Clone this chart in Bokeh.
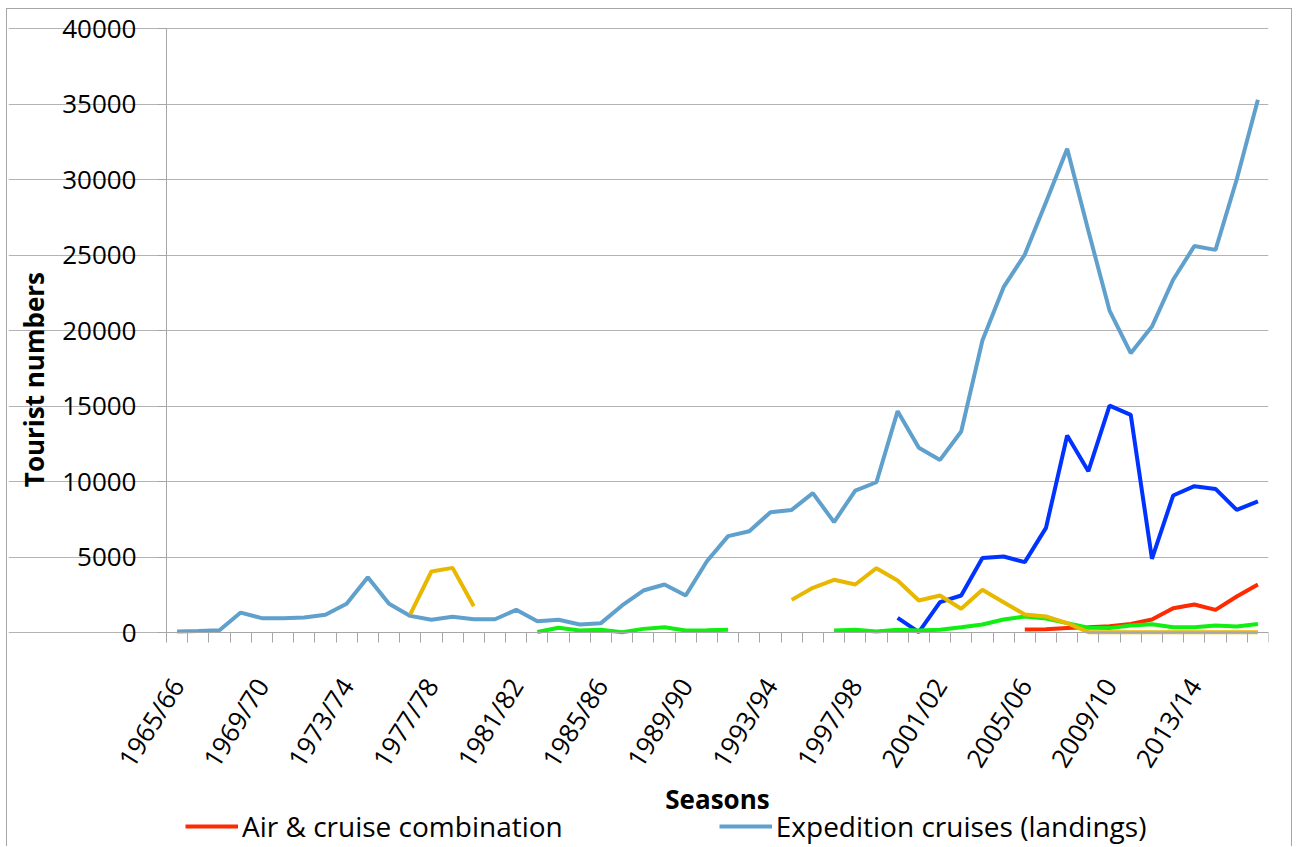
import math
import numpy as np
from bokeh.plotting import figure
from bokeh.models import (Range1d, FixedTicker, CustomJSTickFormatter, Legend,
                          LegendItem, Label, NumeralTickFormatter)
from bokeh.embed import file_html
from bokeh.resources import INLINE

nan = np.nan

# Antarctic seasons, 1965/66 .. 2016/17
seasons = [f"{y}/{(y + 1) % 100:02d}" for y in range(1965, 2017)]
label_every = 4

# Tourist numbers per season (nan = no data for that season)
air_cruise = [nan] * 40 + [200, 220, 290, 350, 420, 570, 860, 1610, 1850, 1500, 2380, 3180]

expedition = [60, 100, 150, 1320, 950, 950, 990, 1170, 1900, 3660,
              1900, 1100, 840, 1040, 880, 880, 1500, 740, 840, 530,
              620, 1790, 2780, 3180, 2450, 4720, 6380, 6710, 7970, 8120,
              9230, 7310, 9400, 9950, 14660, 12230, 11430, 13310, 19340, 22870,
              25030, 28500, 32030, 26600, 21320, 18500, 20260, 23360, 25590, 25340,
              30000, 35280]

cruise_only = [nan] * 34 + [970, 20, 2010, 2450, 4940, 5030, 4660, 6930, 13050, 10680,
                            15030, 14410, 4880, 9070, 9690, 9510, 8120, 8680]

overflights = ([nan] * 11 + [1200, 4040, 4280, 1740] + [nan] * 14 +
               [2160, 2960, 3490, 3180, 4260, 3440, 2120, 2450, 1570, 2830,
                2010, 1190, 1060, 620, 20, 20, 20, 20, 20, 20, 20, 20, 20])

yachts = ([nan] * 17 + [30, 310, 130, 180, 20, 240, 350, 130, 150, 180] + [nan] * 4 +
          [130, 180, 70, 180, 130, 180, 350, 530, 860, 1060, 930, 620, 310, 290,
           460, 550, 350, 350, 460, 400, 570])

x = list(range(len(seasons)))

FONT = "Open Sans"
GRID = "#b3b3b3"
AXIS = "#a6a6a6"

# The frame covers nearly the whole canvas: both axes are pinned at the
# data origin so their labels, the titles and the legend sit inside it.
Y_LO, Y_HI = 0, 40000
PLOT_H, BELOW_PX, ABOVE_PX = 604, 214, 18
Y_MIN = Y_LO - (Y_HI - Y_LO) * BELOW_PX / PLOT_H
Y_MAX = Y_HI + (Y_HI - Y_LO) * ABOVE_PX / PLOT_H
X_LO, X_HI = -0.5, len(seasons) - 0.5
PLOT_W, LEFT_PX = 1102, 158
X_MIN = X_LO - (X_HI - X_LO) * LEFT_PX / PLOT_W

p = figure(width=1286, height=838, output_backend="svg", toolbar_location=None,
           x_range=Range1d(X_MIN, X_HI), y_range=Range1d(Y_MIN, Y_MAX),
           min_border_left=1, min_border_right=25, min_border_top=1,
           min_border_bottom=1)
p.margin = (8, 0, 0, 6)
p.styles = {"border-left": f"1px solid {AXIS}", "border-top": f"1px solid {AXIS}",
            "border-right": f"1px solid {AXIS}"}
p.outline_line_color = None
p.background_fill_color = "white"
p.border_fill_color = "white"

# y axis
yticks = FixedTicker(ticks=list(range(Y_LO, Y_HI + 1, 5000)))
p.yaxis.fixed_location = X_LO
p.yaxis.ticker = yticks
p.yaxis.bounds = (Y_LO, Y_HI)
p.ygrid.ticker = yticks
p.ygrid.bounds = (X_LO, X_HI)
p.ygrid.grid_line_color = GRID
p.xgrid.grid_line_color = None
p.yaxis.formatter = NumeralTickFormatter(format="0")
p.yaxis.axis_line_color = AXIS
p.yaxis.major_tick_line_color = AXIS
p.yaxis.major_tick_out = 9
p.yaxis.major_tick_in = 0
p.yaxis.minor_tick_line_color = None
p.yaxis.major_label_text_font = FONT
p.yaxis.major_label_text_font_size = "26px"
p.yaxis.major_label_text_color = "black"
p.yaxis.major_label_standoff = 21

# x axis: labels every fourth season, tick marks between seasons
p.xaxis.fixed_location = Y_LO
p.xaxis.bounds = (X_LO, X_HI)
p.xaxis.ticker = FixedTicker(ticks=x[::label_every],
                             minor_ticks=[i - 0.5 for i in range(len(seasons) + 1)])
p.xaxis.formatter = CustomJSTickFormatter(
    args=dict(labels=seasons),
    code="const i = Math.round(tick); return labels[i] || '';")
p.xaxis.axis_line_color = AXIS
p.xaxis.major_tick_line_color = None
p.xaxis.major_tick_out = 0
p.xaxis.major_tick_in = 0
p.xaxis.minor_tick_line_color = AXIS
p.xaxis.minor_tick_out = 10
p.xaxis.minor_tick_in = 0
p.xaxis.major_label_orientation = math.radians(58)
p.xaxis.major_label_text_font = FONT
p.xaxis.major_label_text_font_size = "26px"
p.xaxis.major_label_text_color = "black"
p.xaxis.major_label_standoff = 38
p.xaxis.axis_label = "Seasons"
p.xaxis.axis_label_text_font = FONT
p.xaxis.axis_label_text_font_style = "bold"
p.xaxis.axis_label_text_font_size = "26px"
p.xaxis.axis_label_text_color = "black"
p.xaxis.axis_label_standoff = -5

p.add_layout(Label(x=25, x_units="screen", y=16750, y_units="data",
                   text="Tourist numbers", angle=math.pi / 2,
                   text_align="center", text_baseline="middle",
                   text_font=FONT, text_font_style="bold",
                   text_font_size="26px", text_color="black"))

LW = 4
r_air = p.line(x, air_cruise, line_color="#FF2A00", line_width=LW)
r_exp = p.line(x, expedition, line_color="#60A0CC", line_width=LW)
p.line(x, cruise_only, line_color="#0033FF", line_width=LW)
p.line(x, yachts, line_color="#11EE11", line_width=LW)
p.line(x, overflights, line_color="#E8B800", line_width=LW)

legend = Legend(items=[LegendItem(label="Air & cruise combination", renderers=[r_air]),
                       LegendItem(label="Expedition cruises (landings)", renderers=[r_exp])],
                location=(177, 1), orientation="horizontal",
                glyph_width=53, glyph_height=20, label_standoff=4, spacing=156,
                padding=0, margin=0, border_line_color=None,
                background_fill_alpha=0,
                label_text_font=FONT, label_text_font_size="28px",
                label_text_color="black")
p.add_layout(legend)

open("out.html", "w").write(file_html(p, INLINE))
